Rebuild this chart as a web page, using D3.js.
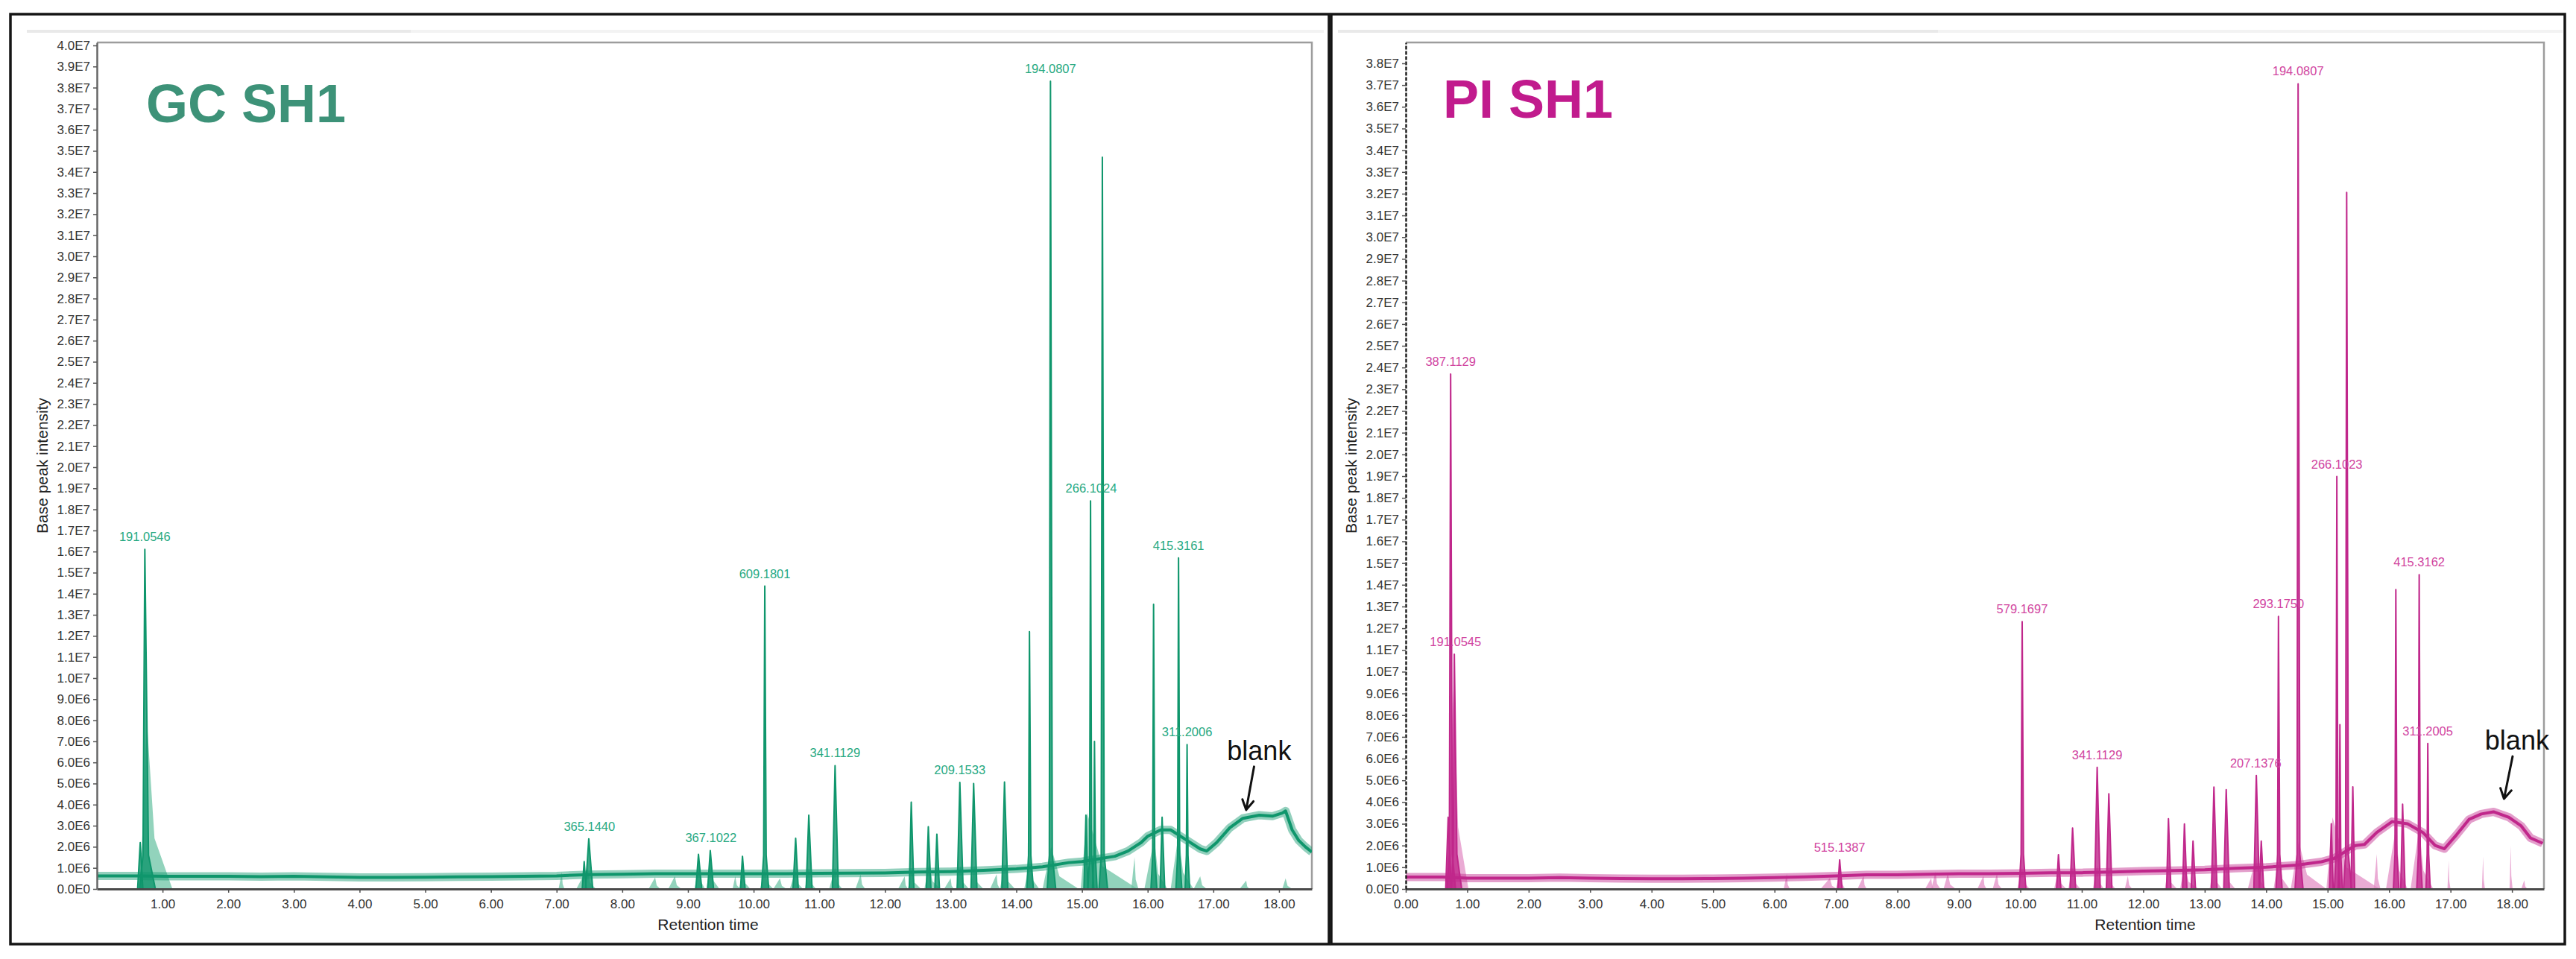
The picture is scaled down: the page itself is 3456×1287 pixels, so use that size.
<!DOCTYPE html>
<html>
<head>
<meta charset="utf-8">
<title>GC SH1 / PI SH1 base peak chromatograms</title>
<script src="https://cdn.jsdelivr.net/npm/d3@7/dist/d3.min.js"></script>
<style>
  body { margin: 0; background: #fff; }
  svg { display: block; font-family: "Liberation Sans", Arial, sans-serif; }
</style>
</head>
<body>
<svg id="chart"></svg>
<script>
// intensities are in units of 1E6, retention time in minutes

// ---- GC SH1 ----
// noisy base peak trace, read every ~0.5 min
const gcBaseline = [
  [0.00, 0.62], [0.30, 0.62], [0.62, 0.62], [1.05, 0.60], [1.50, 0.60], [2.00, 0.60],
  [2.50, 0.58], [3.00, 0.60], [3.50, 0.57], [4.00, 0.55], [4.50, 0.55], [5.00, 0.56],
  [5.50, 0.57], [6.00, 0.58], [6.50, 0.60], [7.00, 0.62], [7.50, 0.68], [8.00, 0.70],
  [8.50, 0.72], [9.00, 0.72], [9.50, 0.72], [10.00, 0.72], [10.50, 0.72], [11.00, 0.74],
  [11.50, 0.75], [12.00, 0.76], [12.50, 0.80], [13.00, 0.82], [13.50, 0.88], [14.00, 0.95],
  [14.40, 1.05], [14.80, 1.25], [15.00, 1.30], [15.50, 1.55], [15.70, 1.80], [15.90, 2.20],
  [16.00, 2.50], [16.20, 2.80], [16.35, 2.80], [16.60, 2.30], [16.80, 1.90], [16.90, 1.80],
  [17.05, 2.20], [17.25, 2.90], [17.45, 3.35], [17.70, 3.50], [17.90, 3.45], [18.05, 3.60],
  [18.10, 3.70], [18.20, 2.80], [18.30, 2.30], [18.40, 2.00], [18.50, 1.75]
];
// peaks: [time, apex, left width, right width]
const gcPeaks = [
  [0.66, 2.2, 0.04, 0.04], [0.73, 16.1, 0.08, 0.16],
  [7.42, 1.3, 0.03, 0.03], [7.49, 2.38, 0.05, 0.06],
  [9.16, 1.64, 0.04, 0.05], [9.34, 1.82, 0.04, 0.05], [9.83, 1.55, 0.03, 0.04],
  [10.17, 14.36, 0.05, 0.06], [10.64, 2.4, 0.04, 0.04], [10.84, 3.5, 0.04, 0.05],
  [11.24, 5.85, 0.04, 0.05], [12.40, 4.12, 0.03, 0.04], [12.66, 2.95, 0.03, 0.04],
  [12.79, 2.6, 0.03, 0.04], [13.14, 5.05, 0.04, 0.05], [13.35, 5.0, 0.04, 0.05],
  [13.82, 5.07, 0.04, 0.05], [14.20, 12.2, 0.04, 0.06], [14.52, 38.3, 0.05, 0.08],
  [15.06, 3.5, 0.03, 0.03], [15.13, 18.4, 0.04, 0.05], [15.19, 7.0, 0.03, 0.04],
  [15.31, 34.7, 0.05, 0.08], [16.09, 13.5, 0.04, 0.05], [16.22, 3.4, 0.03, 0.04],
  [16.47, 15.7, 0.04, 0.05], [16.60, 6.85, 0.03, 0.04]
];
// pale extracted-ion areas: [start, apex time, end, height]
const gcFills = [
  [0.66, 0.76, 1.15, 8.0], [7.03, 7.08, 7.12, 0.8], [7.30, 7.47, 7.60, 1.0],
  [8.40, 8.50, 8.58, 0.55], [8.70, 8.80, 8.90, 0.6], [9.10, 9.17, 9.26, 1.2],
  [9.28, 9.35, 9.48, 1.3], [9.68, 9.72, 9.80, 0.6], [9.78, 9.84, 9.95, 0.9],
  [10.10, 10.17, 10.30, 1.0], [10.30, 10.40, 10.50, 0.5], [10.55, 10.64, 10.75, 0.9],
  [10.78, 10.84, 10.95, 1.0], [11.15, 11.24, 11.35, 1.0], [11.55, 11.63, 11.70, 0.7],
  [12.20, 12.30, 12.35, 0.6], [12.35, 12.41, 12.55, 1.0], [12.60, 12.67, 12.85, 1.2],
  [12.90, 13.00, 13.05, 0.5], [13.08, 13.15, 13.28, 1.1], [13.30, 13.36, 13.50, 1.1],
  [13.60, 13.70, 13.75, 0.7], [13.75, 13.83, 13.98, 1.2], [14.12, 14.21, 14.35, 1.4],
  [14.40, 14.53, 14.95, 2.0], [14.98, 15.08, 15.85, 3.6], [15.75, 15.80, 15.86, 1.5],
  [15.95, 16.10, 16.30, 2.4], [16.35, 16.47, 16.70, 2.6], [16.70, 16.80, 16.90, 0.6],
  [17.40, 17.50, 17.55, 0.4], [18.05, 18.10, 18.20, 0.5]
];
// m/z labels: [text, time, apex]
const gcLabels = [
  ["191.0546", 0.73, 16.1], ["365.1440", 7.50, 2.38], ["367.1022", 9.35, 1.82],
  ["609.1801", 10.17, 14.36], ["341.1129", 11.24, 5.85], ["209.1533", 13.14, 5.05],
  ["194.0807", 14.52, 38.3], ["266.1024", 15.14, 18.4], ["415.3161", 16.47, 15.7],
  ["311.2006", 16.60, 6.85]
];
const gcXTicks = [1, 2, 3, 4, 5, 6, 7, 8, 9, 10, 11, 12, 13, 14, 15, 16, 17, 18];

// ---- PI SH1 ----
const piBaseline = [
  [0.00, 0.55], [0.60, 0.55], [1.00, 0.50], [1.50, 0.50], [2.00, 0.50], [2.50, 0.52],
  [3.00, 0.50], [3.50, 0.48], [4.00, 0.47], [4.50, 0.47], [5.00, 0.48], [5.50, 0.50],
  [6.00, 0.52], [6.50, 0.56], [7.00, 0.60], [7.50, 0.65], [8.00, 0.65], [8.50, 0.68],
  [9.00, 0.70], [9.50, 0.70], [10.00, 0.72], [10.50, 0.75], [11.00, 0.75], [11.50, 0.78],
  [12.00, 0.82], [12.50, 0.85], [13.00, 0.88], [13.50, 0.95], [14.00, 1.00], [14.50, 1.10],
  [14.90, 1.25], [15.10, 1.40], [15.45, 2.00], [15.60, 2.05], [15.80, 2.60], [16.05, 3.10],
  [16.30, 3.00], [16.55, 2.60], [16.75, 2.00], [16.90, 1.85], [17.10, 2.50], [17.30, 3.20],
  [17.50, 3.45], [17.70, 3.55], [17.95, 3.30], [18.15, 2.90], [18.30, 2.35], [18.50, 2.10]
];
const piPeaks = [
  [0.69, 3.3, 0.04, 0.05], [0.73, 23.7, 0.06, 0.08], [0.79, 10.8, 0.05, 0.12],
  [7.06, 1.34, 0.03, 0.04], [10.03, 12.3, 0.05, 0.06], [10.62, 1.58, 0.03, 0.04],
  [10.85, 2.8, 0.04, 0.05], [11.25, 5.6, 0.04, 0.05], [11.44, 4.38, 0.04, 0.05],
  [12.41, 3.23, 0.03, 0.04], [12.67, 2.99, 0.03, 0.04], [12.81, 2.2, 0.03, 0.04],
  [13.15, 4.69, 0.04, 0.05], [13.35, 4.57, 0.04, 0.05], [13.84, 5.22, 0.04, 0.05],
  [13.92, 2.2, 0.03, 0.04], [14.20, 12.54, 0.04, 0.06], [14.52, 37.06, 0.05, 0.08],
  [15.06, 3.0, 0.03, 0.03], [15.15, 18.98, 0.04, 0.05], [15.20, 7.56, 0.03, 0.04],
  [15.31, 32.06, 0.05, 0.08], [15.41, 4.7, 0.03, 0.03], [16.11, 13.78, 0.04, 0.05],
  [16.22, 3.9, 0.03, 0.04], [16.49, 14.46, 0.04, 0.05], [16.63, 6.7, 0.03, 0.04]
];
const piFills = [
  [0.66, 0.78, 1.02, 9.5], [6.15, 6.20, 6.25, 0.7], [6.75, 6.90, 7.02, 0.5],
  [7.00, 7.07, 7.15, 0.9], [7.35, 7.45, 7.50, 0.6], [8.45, 8.55, 8.60, 0.5],
  [8.55, 8.62, 8.70, 0.8], [8.75, 8.82, 8.95, 0.7], [9.30, 9.40, 9.45, 0.6],
  [9.55, 9.62, 9.70, 0.7], [9.95, 10.03, 10.15, 1.0], [10.55, 10.62, 10.75, 0.9],
  [10.78, 10.85, 10.98, 1.0], [11.18, 11.25, 11.36, 1.1], [11.38, 11.44, 11.55, 0.9],
  [11.70, 11.75, 11.82, 0.6], [12.35, 12.41, 12.55, 1.0], [12.60, 12.67, 12.90, 1.1],
  [13.08, 13.15, 13.28, 1.2], [13.30, 13.36, 13.50, 1.1], [13.70, 13.84, 14.00, 1.5],
  [14.12, 14.21, 14.38, 1.6], [14.40, 14.53, 14.98, 2.2], [14.98, 15.08, 15.85, 3.3],
  [15.75, 15.80, 15.86, 1.6], [15.95, 16.11, 16.30, 2.8], [16.35, 16.49, 16.72, 2.8],
  [16.95, 16.97, 17.00, 1.3], [17.51, 17.53, 17.56, 1.5], [17.96, 17.98, 18.01, 2.0],
  [18.15, 18.20, 18.25, 0.4]
];
const piLabels = [
  ["387.1129", 0.73, 23.7], ["191.0545", 0.81, 10.8], ["515.1387", 7.06, 1.34],
  ["579.1697", 10.03, 12.3], ["341.1129", 11.25, 5.6], ["207.1376", 13.83, 5.22],
  ["293.1750", 14.20, 12.54], ["194.0807", 14.52, 37.06], ["266.1023", 15.15, 18.98],
  ["415.3162", 16.49, 14.46], ["311.2005", 16.63, 6.7]
];
const piXTicks = [0, 1, 2, 3, 4, 5, 6, 7, 8, 9, 10, 11, 12, 13, 14, 15, 16, 17, 18];

// ---- layout ----
const W = 3456, H = 1287;
const panels = [
  {
    id: "gc", title: "GC SH1", titleX: 196, titleY: 164,
    frame: [14, 19, 1783, 1267], rule: [36, 551, 1776],
    left: 130, right: 1760, top: 57, bottom: 1193,
    xMax: 18.5, yMax: 40.14, yTickMax: 40, xTicks: gcXTicks, xTitleX: 950,
    baseline: gcBaseline, peaks: gcPeaks, fills: gcFills, labels: gcLabels,
    line: "#0f966c", pale: "rgba(104,194,162,0.72)", labelColor: "#27a982", titleColor: "#3d9278",
    dashedAxis: false,
    blank: { at: [17.21, 6.11], arrow: [[17.62, 5.80], [17.50, 3.75]] }
  },
  {
    id: "pi", title: "PI SH1", titleX: 1936, titleY: 158,
    frame: [1786, 19, 3441, 1267], rule: [1795, 2600, 3438],
    left: 1886, right: 3413, top: 57, bottom: 1193,
    xMax: 18.52, yMax: 38.96, yTickMax: 38, xTicks: piXTicks, xTitleX: 2878,
    baseline: piBaseline, peaks: piPeaks, fills: piFills, labels: piLabels,
    line: "#c0278b", pale: "rgba(226,138,196,0.72)", labelColor: "#d1449f", titleColor: "#c11b8d",
    dashedAxis: true,
    blank: { at: [17.56, 6.41], arrow: [[18.01, 6.10], [17.87, 4.15]] }
  }
];

const svg = d3.select("#chart").attr("width", W).attr("height", H);
svg.append("rect").attr("width", W).attr("height", H).attr("fill", "#fff");

const fmtE = v => v === 0 ? "0.0E0" : (v >= 10 ? (v / 10).toFixed(1) + "E7" : v.toFixed(1) + "E6");

function drawPanel(p) {
  const g = svg.append("g");
  const x = d3.scaleLinear().domain([0, p.xMax]).range([p.left, p.right]);
  const y = d3.scaleLinear().domain([0, p.yMax]).range([p.bottom, p.top]);

  // outer frame and faint header rule
  g.append("rect")
    .attr("x", p.frame[0]).attr("y", p.frame[1])
    .attr("width", p.frame[2] - p.frame[0]).attr("height", p.frame[3] - p.frame[1])
    .attr("fill", "none").attr("stroke", "#151515").attr("stroke-width", 3.5);
  g.append("line").attr("x1", p.rule[0]).attr("x2", p.rule[1]).attr("y1", 42).attr("y2", 42)
    .attr("stroke", "#e9e9e9").attr("stroke-width", 4);
  g.append("line").attr("x1", p.rule[1]).attr("x2", p.rule[2]).attr("y1", 42).attr("y2", 42)
    .attr("stroke", "#f3f3f3").attr("stroke-width", 4);

  // plot border (top and right)
  g.append("path")
    .attr("d", `M${p.left},${p.top}H${p.right}V${p.bottom}`)
    .attr("fill", "none").attr("stroke", "#9d9d9d").attr("stroke-width", 2.5);

  svg.append("clipPath").attr("id", "clip-" + p.id)
    .append("rect").attr("x", p.left).attr("y", p.top - 2)
    .attr("width", p.right - p.left).attr("height", p.bottom - p.top + 2);
  const plot = g.append("g").attr("clip-path", `url(#clip-${p.id})`);

  // pale extracted ion areas: steep front, tailing back
  const shape = d3.line().x(d => x(d[0])).y(d => y(d[1]));
  plot.selectAll("path.pale").data(p.fills).join("path")
    .attr("class", "pale")
    .attr("d", f => {
      const [s, a, e, h] = f;
      return shape([[s, 0], [a, h], [a + (e - a) * 0.3, h * 0.3], [e, 0]]) + "Z";
    })
    .attr("fill", p.pale);

  // peaks
  plot.selectAll("path.peak").data(p.peaks).join("path")
    .attr("class", "peak")
    .attr("d", d => {
      const [t, h, wl, wr] = d;
      const pts = h > 6
        ? [[t - wl, 0], [t - wl * 0.35, 1.6], [t, h], [t + wr * 0.35, 1.6], [t + wr, 0]]
        : [[t - wl, 0], [t, h], [t + wr, 0]];
      return shape(pts) + "Z";
    })
    .attr("fill", p.line).attr("fill-opacity", 0.8)
    .attr("stroke", p.line).attr("stroke-width", 2).attr("stroke-linejoin", "round");

  // base peak trace (wide soft band + core line)
  plot.append("path").datum(p.baseline).attr("d", shape)
    .attr("fill", "none").attr("stroke", p.line).attr("stroke-opacity", 0.45)
    .attr("stroke-width", 11).attr("stroke-linejoin", "round");
  plot.append("path").datum(p.baseline).attr("d", shape)
    .attr("fill", "none").attr("stroke", p.line)
    .attr("stroke-width", 4).attr("stroke-linejoin", "round");

  // m/z labels
  g.selectAll("text.mz").data(p.labels).join("text")
    .attr("class", "mz")
    .attr("x", d => x(d[1])).attr("y", d => y(d[2]) - 11)
    .attr("text-anchor", "middle").attr("font-size", 16.5)
    .attr("fill", p.labelColor).text(d => d[0]);

  // axes
  const xAxis = d3.axisBottom(x).tickValues(p.xTicks).tickFormat(d3.format(".2f"))
    .tickSize(5).tickSizeOuter(0).tickPadding(9);
  const gx = g.append("g").attr("transform", `translate(0,${p.bottom})`).call(xAxis);
  gx.select(".domain").attr("stroke", "#4a4a4a").attr("stroke-width", 3);
  gx.selectAll(".tick line").attr("stroke", "#4a4a4a").attr("stroke-width", 1.5);
  gx.selectAll(".tick text").attr("font-size", 17).attr("fill", "#333")
    .attr("font-family", "Liberation Sans, Arial, sans-serif");

  const yAxis = d3.axisLeft(y).tickValues(d3.range(0, p.yTickMax + 1)).tickFormat(fmtE)
    .tickSize(5).tickSizeOuter(0).tickPadding(4);
  const gy = g.append("g").attr("transform", `translate(${p.left},0)`).call(yAxis);
  gy.select(".domain").attr("stroke", p.dashedAxis ? "#222" : "#666")
    .attr("stroke-width", 2.5)
    .attr("stroke-dasharray", p.dashedAxis ? "5,2" : null);
  gy.selectAll(".tick line").attr("stroke", "#555").attr("stroke-width", 1.5);
  gy.selectAll(".tick text").attr("font-size", 17).attr("fill", "#333")
    .attr("font-family", "Liberation Sans, Arial, sans-serif");

  // axis titles
  g.append("text")
    .attr("transform", `translate(${p.left - 72},${(p.top + p.bottom) / 2}) rotate(-90)`)
    .attr("text-anchor", "middle").attr("dominant-baseline", "middle")
    .attr("font-size", 21).attr("fill", "#222").text("Base peak intensity");
  g.append("text")
    .attr("x", p.xTitleX).attr("y", 1248)
    .attr("text-anchor", "middle").attr("font-size", 21).attr("fill", "#222")
    .text("Retention time");

  // sample title
  g.append("text")
    .attr("x", p.titleX).attr("y", p.titleY)
    .attr("font-size", 72).attr("font-weight", "bold").attr("fill", p.titleColor)
    .text(p.title);

  // blank annotation
  g.append("text")
    .attr("x", x(p.blank.at[0])).attr("y", y(p.blank.at[1]))
    .attr("font-size", 36).attr("fill", "#111").text("blank");
  const [a0, a1] = p.blank.arrow;
  const x0 = x(a0[0]), y0 = y(a0[1]), x1 = x(a1[0]), y1 = y(a1[1]);
  const ang = Math.atan2(y1 - y0, x1 - x0), head = 15, spread = Math.PI / 6;
  g.append("path")
    .attr("d", `M${x0},${y0}L${x1},${y1}` +
      `M${x1 - head * Math.cos(ang - spread)},${y1 - head * Math.sin(ang - spread)}L${x1},${y1}` +
      `L${x1 - head * Math.cos(ang + spread)},${y1 - head * Math.sin(ang + spread)}`)
    .attr("fill", "none").attr("stroke", "#111").attr("stroke-width", 3)
    .attr("stroke-linecap", "round").attr("stroke-linejoin", "round");
}

panels.forEach(drawPanel);
</script>
</body>
</html>
